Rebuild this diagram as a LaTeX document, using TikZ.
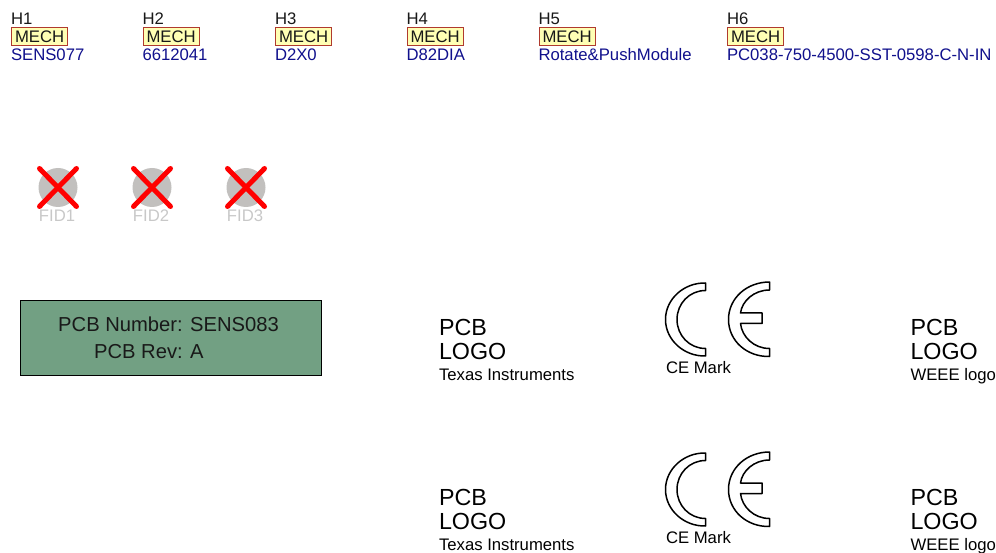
\documentclass[tikz,border=0pt]{standalone}
\usepackage{fontspec}
\setmainfont{Liberation Sans}
\definecolor{mechfill}{HTML}{FFFFB4}
\definecolor{mechline}{HTML}{B03A2E}
\definecolor{valblue}{HTML}{10108C}
\definecolor{fidgray}{HTML}{C2C0BE}
\definecolor{fidtext}{HTML}{C8C8C8}
\definecolor{pcbgreen}{HTML}{72A083}
\newcommand{\fsz}[1]{\fontsize{#1}{#1}\selectfont}
\tikzset{
  lbl/.style={inner sep=0pt,outer sep=0pt,anchor=base west,font=\fsz{16.7}},
  refdes/.style={lbl,text=black!90},
  val/.style={lbl,text=valblue},
  mech/.style={draw=mechline,fill=mechfill,line width=1.3pt,inner sep=0pt,minimum width=56pt,minimum height=18pt,font=\fsz{16.7},text=black!90,anchor=north west},
  fid/.style={circle,fill=fidgray,minimum size=39pt,inner sep=0pt},
  cross/.style={red,line width=5pt,line cap=round},
  fidlbl/.style={lbl,anchor=base,text=fidtext},
  big/.style={lbl,font=\fsz{23.3}},
  ce/.style={draw=black,line width=1.5pt,fill=white,line join=round},
  pcbtxt/.style={inner sep=0pt,font=\fsz{20.2},text=black!90}
}
\begin{document}
\begin{tikzpicture}[x=1pt,y=-1pt]
\useasboundingbox (0,0) rectangle (996,553);
% mechanical parts
\foreach \n/\x/\v in {1/11/SENS077,2/142.5/6612041,3/275/D2X0,4/406.5/D82DIA,5/538.5/Rotate\&PushModule,6/727/PC038-750-4500-SST-0598-C-N-IN}{
  \node[refdes] (h\n) at (\x,24.5) {H\n};
  \node[mech] (m\n) at (\x,26.7) {MECH};
  \node[val] (v\n) at (\x,61) {\v};
}
% fiducials
\foreach \n/\x/\tx in {1/58/57,2/152/151,3/246/245}{
  \node[fid] (f\n) at (\x,187.5) {};
  \draw[cross] (\x-18.5,168.5) -- (\x+18.5,206.5);
  \draw[cross] (\x-18.5,206.5) -- (\x+18.5,168.5);
  \node[fidlbl] (fl\n) at (\tx,221.5) {FID\n};
}
% PCB box
\node[draw=black,fill=pcbgreen,line width=1pt,minimum width=301pt,minimum height=75.5pt,inner sep=0pt] (pcb) at (170.5,338) {};
\node[pcbtxt,anchor=base east] (pa) at (183,331) {PCB Number:};
\node[pcbtxt,anchor=base west] (pb) at (190,331) {SENS083};
\node[pcbtxt,anchor=base east] (pc) at (183,359) {PCB Rev:};
\node[pcbtxt,anchor=base west] (pd) at (190,359) {A};
% logos
\foreach \k/\dy in {1/0,2/170}{
  \begin{scope}[yshift=-\dy pt]
    \node[big] (la\k) at (439,335) {PCB};
    \node[big] (lb\k) at (439,359.5) {LOGO};
    \node[big] (wa\k) at (910.5,335) {PCB};
    \node[big] (wb\k) at (910.5,359.5) {LOGO};
    \node[lbl] (lc\k) at (439,380) {Texas Instruments};
    \node[lbl] (wc\k) at (910.5,380) {WEEE logo};
    \node[lbl] (cm\k) at (666,373) {CE Mark};
    % C
    \draw[ce] (705.5,283) .. controls (684,282.5) and (665.5,299) .. (665.5,319.5)
       .. controls (665.5,340) and (684,356.5) .. (705.5,356) -- (705.5,348.5)
       .. controls (689.5,348.5) and (677,335.5) .. (677,319.5)
       .. controls (677,303.5) and (689.5,290.5) .. (705.5,290.5) -- cycle;
    % E
    \draw[ce] (769.5,282) .. controls (747,282) and (728.5,298) .. (728.5,319.5)
       .. controls (728.5,341) and (747,357) .. (769.5,356.5) -- (769.5,348.5)
       .. controls (754,348.5) and (742,337) .. (740.5,323.5) -- (762,323.5) -- (762,313) -- (740.5,313)
       .. controls (742,301) and (754,290) .. (769.5,290) -- cycle;
  \end{scope}
}
\end{tikzpicture}
\end{document}
